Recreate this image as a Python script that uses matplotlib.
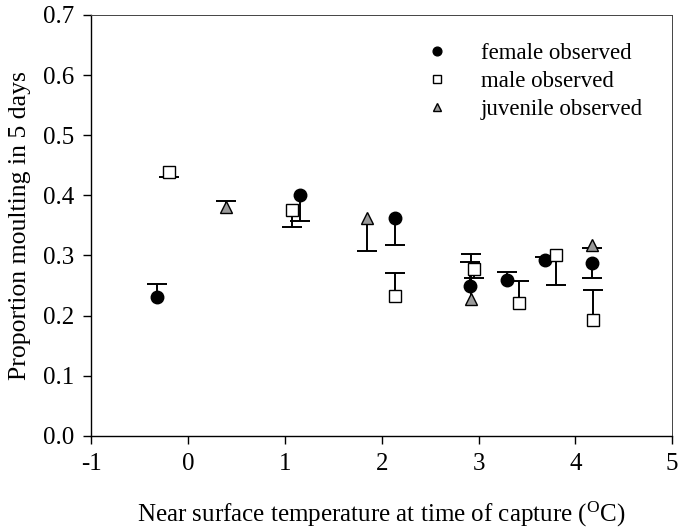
import numpy as np
import matplotlib.pyplot as plt

# observed values with the predicted value each one is tied to (cap end)
female_x = [-0.32, 1.155, 2.14, 2.91, 3.29, 3.69, 4.17]
female_obs = [0.231, 0.400, 0.362, 0.250, 0.260, 0.293, 0.288]
female_pred = [0.252, 0.358, 0.317, 0.290, 0.272, 0.298, 0.263]

male_x = [-0.20, 1.07, 2.14, 2.95, 3.42, 3.80, 4.18]
male_obs = [0.439, 0.375, 0.232, 0.278, 0.221, 0.300, 0.192]
male_pred = [0.431, 0.347, 0.271, 0.262, 0.257, 0.251, 0.243]

juv_x = [0.39, 1.85, 2.92, 4.17]
juv_obs = [0.380, 0.362, 0.228, 0.318]
juv_pred = [0.390, 0.308, 0.303, 0.312]

x_ticks = [-1, 0, 1, 2, 3, 4, 5]
y_ticks = [0.0, 0.1, 0.2, 0.3, 0.4, 0.5, 0.6, 0.7]

plt.rcParams["font.family"] = ["Liberation Serif", "DejaVu Serif"]
plt.rcParams["font.size"] = 17


def draw_series(ax, x, obs, pred, marker, face, ms, label):
    ax.vlines(x, obs, pred, color="black", lw=1.4, zorder=2)
    ax.plot(x, pred, ls="none", marker="_", ms=14, mew=1.4, color="black", zorder=2)
    ax.plot(x, obs, ls="none", marker=marker, ms=ms, mfc=face, mec="black",
            mew=1.0, label=label, zorder=3)


fig = plt.figure(figsize=(6.81, 5.31), dpi=100)
ax = fig.add_axes([0.134, 0.179, 0.853, 0.793])

draw_series(ax, female_x, female_obs, female_pred, "o", "black", 9, "female observed")
draw_series(ax, male_x, male_obs, male_pred, "s", "white", 8, "male observed")
draw_series(ax, juv_x, juv_obs, juv_pred, "^", "#9a9a9a", 8.5, "juvenile observed")

ax.set_xlim(-1, 5)
ax.set_ylim(0, 0.7)
ax.set_xticks(x_ticks)
ax.set_yticks(y_ticks)
ax.set_xticklabels([str(t) for t in x_ticks])
ax.set_yticklabels([f"{t:.1f}" for t in y_ticks])
ax.tick_params(direction="out", length=6, width=1, pad=6, labelsize=18)
ax.spines["left"].set_linewidth(1.0)
ax.spines["bottom"].set_linewidth(1.0)
for side in ("top", "right"):
    ax.spines[side].set_linewidth(0.7)
    ax.spines[side].set_color("#444444")

ax.set_xlabel(r"Near surface temperature at time of capture ($\mathregular{^{O}}$C)",
              fontsize=18, labelpad=18)
ax.set_ylabel("Proportion moulting in 5 days", fontsize=18.5, labelpad=9)

ax.legend(loc="upper left", bbox_to_anchor=(0.56, 0.955), frameon=False,
          markerscale=0.7, handlelength=1.0, handletextpad=1.4, labelspacing=0.3,
          borderaxespad=0, fontsize=16.5)

plt.savefig("out.png", dpi=100)
plt.close()
